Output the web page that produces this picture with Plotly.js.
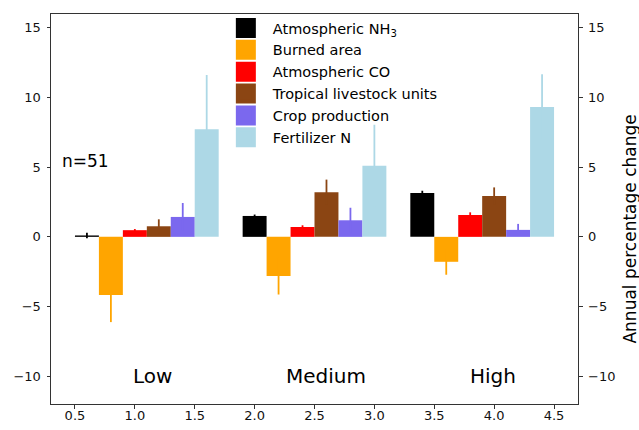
<!DOCTYPE html>
<html>
<head>
<meta charset="utf-8">
<script src="https://cdn.plot.ly/plotly-3.0.1.min.js"></script>
<style>html,body{margin:0;padding:0;background:#fff;}#chart{width:639px;height:430px;}</style>
</head>
<body>
<div id="chart"></div>
<script>
// ---- data ----
const groups = ['Low', 'Medium', 'High'];
const seriesNames = ['Atmospheric NH<sub>3</sub>', 'Burned area', 'Atmospheric CO',
  'Tropical livestock units', 'Crop production', 'Fertilizer N'];
const nh3Values = [0.1, 1.5, 3.14];
const nh3Errors = [0.2, 0.1, 0.17];
const burnedValues = [-4.17, -2.81, -1.79];
const burnedErrors = [1.95, 1.33, 0.93];
const coValues = [0.48, 0.71, 1.57];
const coErrors = [0.08, 0.12, 0.19];
const livestockValues = [0.76, 3.21, 2.93];
const livestockErrors = [0.5, 0.9, 0.62];
const cropValues = [1.43, 1.19, 0.5];
const cropErrors = [1.0, 0.9, 0.43];
const fertValues = [7.72, 5.1, 9.33];
const fertErrors = [3.9, 2.95, 2.34];
const sampleLabel = 'n=51';
const yTickVals = [-10, -5, 0, 5, 10, 15];
const xTickVals = [0.5, 1.0, 1.5, 2.0, 2.5, 3.0, 3.5, 4.0, 4.5];

// ---- styles ----
const colors = ['#000000', '#FFA500', '#FF0000', '#8B4513', '#7B68EE', '#ADD8E6'];
const values = [nh3Values, burnedValues, coValues, livestockValues, cropValues, fertValues];
const errors = [nh3Errors, burnedErrors, coErrors, livestockErrors, cropErrors, fertErrors];
const FONT = 'DejaVu Sans, sans-serif';
const barWidth = 0.2, groupGap = 1.4, firstCenter = 0.6;

const traces = [];
values.forEach((vals, s) => {
  traces.push({
    type: 'bar',
    x: groups.map((g, gi) => firstCenter + gi * groupGap + s * barWidth),
    y: vals,
    width: barWidth,
    marker: {color: colors[s], line: {width: 0}},
    error_y: {type: 'data', array: errors[s], visible: true, color: colors[s], thickness: 1.8, width: 0},
    name: seriesNames[s],
    showlegend: false,
    hoverinfo: 'skip'
  });
});
// legend entries (square swatches)
seriesNames.forEach((n, s) => {
  traces.push({
    type: 'scatter', mode: 'markers', x: [null], y: [null], yaxis: 'y2',
    name: n, showlegend: true,
    marker: {symbol: 'square', size: 16, color: colors[s], line: {color: colors[s], width: 4}}
  });
});

const axisCommon = {
  showline: true, linecolor: '#333', linewidth: 1,
  ticks: 'outside', ticklen: 3.5, tickwidth: 1, tickcolor: '#333',
  showgrid: false, zeroline: false,
  tickfont: {family: FONT, size: 13, color: '#111'}
};

const groupLabelX = [1.15, 2.6, 3.99];
const annotations = groups.map((g, gi) => ({
  x: groupLabelX[gi], y: -10, xref: 'x', yref: 'y', text: g, showarrow: false,
  xanchor: 'center', yanchor: 'middle', font: {family: FONT, size: 20, color: '#000'}
}));
annotations.push({
  x: 0.375, y: 5.48, xref: 'x', yref: 'y', text: sampleLabel, showarrow: false,
  xanchor: 'left', yanchor: 'middle', font: {family: FONT, size: 17, color: '#000'}
});
annotations.push({
  x: 1.098, y: 0.449, xref: 'paper', yref: 'paper', text: 'Annual percentage change',
  showarrow: false, textangle: -90, xanchor: 'center', yanchor: 'middle',
  font: {family: FONT, size: 17, color: '#000'}
});

const layout = {
  width: 639, height: 430,
  margin: {l: 51, r: 61, t: 12, b: 26, pad: 0},
  paper_bgcolor: '#fff', plot_bgcolor: '#fff',
  barmode: 'overlay',
  showlegend: true,
  legend: {
    x: 0.3185, y: 1.005, xanchor: 'left', yanchor: 'top',
    bgcolor: 'rgba(0,0,0,0)', borderwidth: 0, itemsizing: 'trace', itemwidth: 44,
    tracegroupgap: 0,
    font: {family: FONT, size: 14.5, color: '#000'}, itemclick: false, itemdoubleclick: false
  },
  xaxis: Object.assign({}, axisCommon, {
    range: [0.3, 4.7], tickvals: xTickVals, tickformat: '.1f', mirror: true,
    ticklabelstandoff: -4
  }),
  yaxis: Object.assign({}, axisCommon, {
    range: [-12, 16], tickvals: yTickVals, ticklabelstandoff: 3
  }),
  yaxis2: Object.assign({}, axisCommon, {
    range: [-12, 16], tickvals: yTickVals, overlaying: 'y', side: 'right', anchor: 'x',
    ticklabelstandoff: 3
  }),
  annotations: annotations,
  font: {family: FONT}
};

Plotly.newPlot('chart', traces, layout, {staticPlot: true, displayModeBar: false});
</script>
</body>
</html>
